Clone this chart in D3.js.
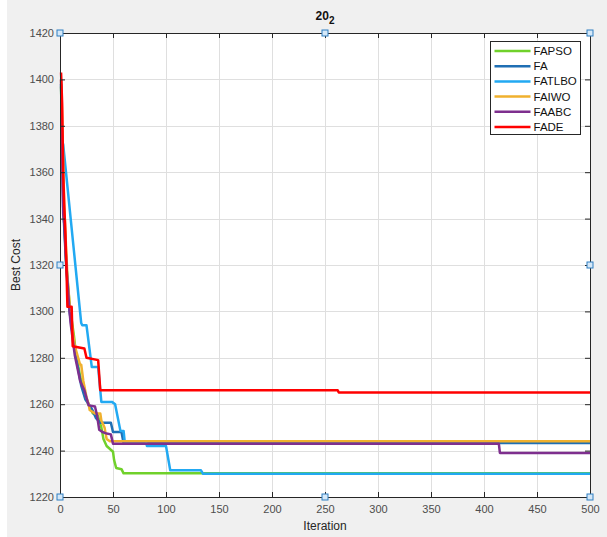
<!DOCTYPE html>
<html>
<head>
<meta charset="utf-8">
<script src="https://cdn.jsdelivr.net/npm/d3@7"></script>
<style>
  body { margin: 0; background: #fff; }
  svg { display: block; font-family: "Liberation Sans", Arial, sans-serif; }
</style>
</head>
<body>
<svg id="chart"></svg>
<script>
// best cost per iteration as [iteration, cost]
const fapso = [[1,1397],[3,1350],[6,1320],[9,1303],[13,1290],[15,1282],[19,1272],[24,1263],[28,1259],[31,1256],[35,1256],[39,1250],[41,1245],[44,1242],[50,1239.5],[51,1236],[53,1232.5],[58,1232],[60,1230.2],[500,1230.2]];
const fa = [[1,1398],[3,1345],[6,1318],[9,1300],[12,1290],[16,1278],[20,1268],[24,1262],[30,1258],[34,1254],[38,1252],[48,1252],[50,1248],[58,1248],[60,1243.3],[500,1243.3]];
const fatlbo = [[1,1374],[3,1372],[20,1295],[21,1294],[25,1294],[30,1276],[36,1276],[39,1261],[49,1261],[52,1260],[57,1248.5],[60,1248.5],[61,1244],[81,1244],[82,1242],[100,1242],[104,1231.5],[133,1231.5],[135,1230],[500,1230]];
const faiwo = [[1,1400],[2,1385],[4,1345],[7,1315],[10,1298],[14,1285],[19,1277],[20,1277],[22,1270],[25,1263],[27,1260],[28,1257.5],[33,1256],[38,1256],[39,1253],[42,1250],[44,1245],[47,1244],[500,1244]];
const faabc = [[1,1400],[2,1370],[3,1342],[4,1338],[6,1320],[9,1300],[10,1295],[14,1281],[19,1270],[23,1266],[27,1259.5],[33,1259],[35,1255],[37,1249],[40,1248],[43,1247.5],[48,1247],[50,1243],[414,1243],[415,1239],[500,1239]];
const fade = [[1,1403],[2,1390],[3,1360],[4,1346],[5,1335],[6,1320],[7,1302],[11,1302],[12,1285],[23,1284],[25,1280],[36,1279],[38,1266],[262,1266],[263,1265],[500,1265]];

const seriesNames = ["FAPSO", "FA", "FATLBO", "FAIWO", "FAABC", "FADE"];
const seriesData = [fapso, fa, fatlbo, faiwo, faabc, fade];
const seriesColors = ["#70d12b", "#1f6fb4", "#22a9f2", "#f0b12e", "#7e2f8e", "#ff0000"];

const xTicks = d3.range(0, 501, 50);
const yTicks = d3.range(1220, 1421, 20);

const width = 607, height = 537;
const margin = {top: 33, right: 17, bottom: 40, left: 60};
const axisColor = "#262626";

const svg = d3.select("#chart")
    .attr("width", width)
    .attr("height", height);

svg.append("rect")
    .attr("x", 7).attr("y", 0)
    .attr("width", width - 7).attr("height", height)
    .attr("fill", "#f0f0f0");

const x = d3.scaleLinear().domain([0, 500]).range([margin.left, width - margin.right]);
const y = d3.scaleLinear().domain([1220, 1420]).range([height - margin.bottom, margin.top]);

svg.append("rect")
    .attr("x", x(0)).attr("y", y(1420))
    .attr("width", x(500) - x(0)).attr("height", y(1220) - y(1420))
    .attr("fill", "#fff");

// grid
const grid = svg.append("g")
    .attr("stroke", "#dfdfdf")
    .attr("stroke-width", 1);
grid.selectAll(".gx")
    .data(xTicks.slice(1, -1))
    .join("line")
    .attr("x1", d => Math.round(x(d)) + 0.5).attr("x2", d => Math.round(x(d)) + 0.5)
    .attr("y1", y(1420)).attr("y2", y(1220));
grid.selectAll(".gy")
    .data(yTicks.slice(1, -1))
    .join("line")
    .attr("y1", d => Math.round(y(d)) + 0.5).attr("y2", d => Math.round(y(d)) + 0.5)
    .attr("x1", x(0)).attr("x2", x(500));

// lines
const line = d3.line().x(d => x(d[0])).y(d => y(d[1]));
svg.append("g")
    .attr("fill", "none")
    .attr("stroke-width", 2.5)
    .attr("stroke-linejoin", "round")
    .selectAll("path")
    .data(seriesData)
    .join("path")
    .attr("stroke", (d, i) => seriesColors[i])
    .attr("d", line);

// axes, with inward ticks on all four sides
const tick = 5;
const fmt = d3.format("d");
const axes = svg.append("g")
    .attr("font-size", 11)
    .attr("fill", "#4d4d4d");

axes.append("g")
    .attr("transform", `translate(0,${y(1220)})`)
    .call(d3.axisBottom(x).tickValues(xTicks).tickSize(-tick).tickPadding(8).tickFormat(fmt))
    .call(g => g.selectAll("text").attr("fill", "#4d4d4d").attr("font-size", 11));
axes.append("g")
    .attr("transform", `translate(0,${y(1420)})`)
    .call(d3.axisTop(x).tickValues(xTicks).tickSize(-tick).tickFormat(""));
axes.append("g")
    .attr("transform", `translate(${x(0)},0)`)
    .call(d3.axisLeft(y).tickValues(yTicks).tickSize(-tick).tickPadding(6).tickFormat(fmt))
    .call(g => g.selectAll("text").attr("fill", "#4d4d4d").attr("font-size", 11));
axes.append("g")
    .attr("transform", `translate(${x(500)},0)`)
    .call(d3.axisRight(y).tickValues(yTicks).tickSize(-tick).tickFormat(""));
axes.selectAll(".domain, .tick line").attr("stroke", axisColor);
axes.selectAll("text").attr("font-family", "'Liberation Sans', Arial, sans-serif");

// selection handles
const handles = [[0,1420],[250,1420],[500,1420],[0,1320],[500,1320],[0,1220],[250,1220],[500,1220]];
svg.append("g")
    .selectAll("rect")
    .data(handles)
    .join("rect")
    .attr("x", d => x(d[0]) - 3).attr("y", d => y(d[1]) - 3)
    .attr("width", 6).attr("height", 6)
    .attr("fill", "#d5e8f8")
    .attr("stroke", "#2f7fc1")
    .attr("stroke-width", 1);

// title
const title = svg.append("text")
    .attr("x", 325).attr("y", 20)
    .attr("text-anchor", "middle")
    .attr("font-weight", "bold")
    .attr("font-size", 12)
    .attr("fill", "#111");
title.append("tspan").text("20");
title.append("tspan").attr("dy", 4).attr("font-size", 10).text("2");

// axis labels
svg.append("text")
    .attr("x", x(250)).attr("y", 530)
    .attr("text-anchor", "middle")
    .attr("font-size", 12)
    .attr("fill", "#262626")
    .text("Iteration");
svg.append("text")
    .attr("transform", `translate(20,${y(1320)}) rotate(-90)`)
    .attr("text-anchor", "middle")
    .attr("font-size", 12)
    .attr("fill", "#262626")
    .text("Best Cost");

// legend
const legend = svg.append("g").attr("transform", "translate(490.5,41.5)");
legend.append("rect")
    .attr("width", 90).attr("height", 93)
    .attr("fill", "#fff")
    .attr("stroke", "#262626")
    .attr("stroke-width", 1);
const item = legend.selectAll("g")
    .data(seriesNames)
    .join("g")
    .attr("transform", (d, i) => `translate(0,${9.5 + i * 15.2})`);
item.append("line")
    .attr("x1", 4).attr("x2", 40)
    .attr("stroke", (d, i) => seriesColors[i])
    .attr("stroke-width", 2.5);
item.append("text")
    .attr("x", 43).attr("dy", "0.35em")
    .attr("font-size", 11.5)
    .attr("fill", "#111")
    .text(d => d);
</script>
</body>
</html>
